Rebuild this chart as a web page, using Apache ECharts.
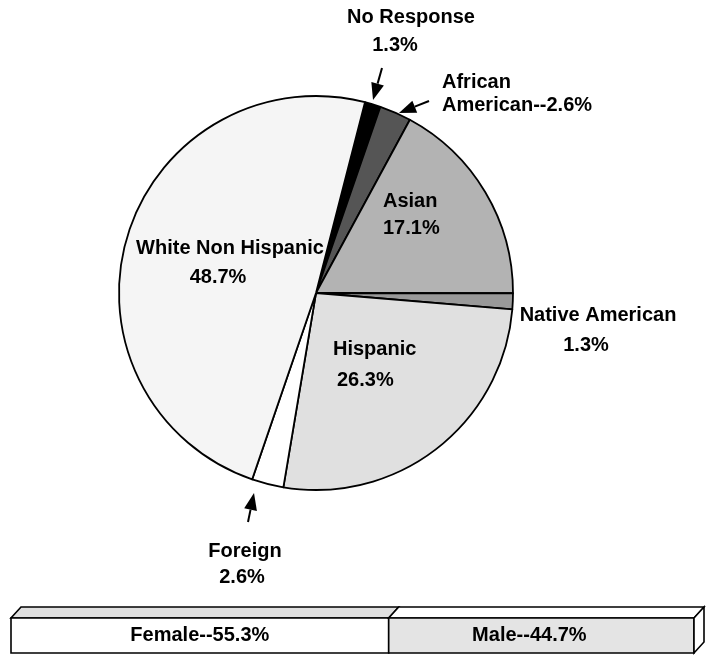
<!DOCTYPE html>
<html>
<head>
<meta charset="utf-8">
<script src="https://cdn.jsdelivr.net/npm/echarts@6/dist/echarts.min.js"></script>
<style>
html,body{margin:0;padding:0;background:#fff;}
#chart{width:714px;height:656px;}
</style>
</head>
<body>
<div id="chart"></div>
<script>
const categories = ['No Response', 'African American', 'Asian', 'Native American', 'Hispanic', 'Foreign', 'White Non Hispanic'];
const percents = [1.3, 2.6, 17.1, 1.3, 26.3, 2.6, 48.7];
const genderCategories = ['Female', 'Male'];
const genderPercents = [55.3, 44.7];

const sliceColors = ['#000000', '#555555', '#b3b3b3', '#999999', '#e0e0e0', '#ffffff', '#f5f5f5'];
const FONT = 'bold 20px "Liberation Sans", Arial, sans-serif';

const chart = echarts.init(document.getElementById('chart'));

function txt(s, x, y, align) {
  return { type: 'text', x: x, y: y, z: 10,
    style: { text: s, font: FONT, fill: '#000', align: align || 'center', verticalAlign: 'middle' } };
}
function arrow(x1, y1, x2, y2) {
  const dx = x2 - x1, dy = y2 - y1, L = Math.sqrt(dx*dx + dy*dy);
  const ux = dx / L, uy = dy / L, hl = 17, hw = 6.5;
  const bx = x2 - ux*hl, by = y2 - uy*hl;
  return [
    { type: 'line', z: 10, shape: { x1: x1, y1: y1, x2: bx, y2: by }, style: { stroke: '#000', lineWidth: 2 } },
    { type: 'polygon', z: 10, shape: { points: [[x2, y2], [bx - uy*hw, by + ux*hw], [bx + uy*hw, by - ux*hw]] }, style: { fill: '#000' } }
  ];
}
const pct = v => v.toFixed(1) + '%';

const graphics = [
  txt(categories[0], 411, 17), txt(pct(percents[0]), 395, 45),
  txt('African', 442, 82, 'left'), txt('American--' + pct(percents[1]), 442, 105, 'left'),
  txt(categories[2], 383, 201, 'left'), txt(pct(percents[2]), 383, 228, 'left'),
  txt(categories[3], 598, 315), txt(pct(percents[3]), 586, 345),
  txt(categories[4], 333, 349, 'left'), txt(pct(percents[4]), 337, 380, 'left'),
  txt(categories[5], 245, 551), txt(pct(percents[5]), 242, 577),
  txt(categories[6], 230, 248), txt(pct(percents[6]), 218, 277)
].concat(arrow(382, 68, 373, 100), arrow(429, 101, 399, 113), arrow(248, 522, 254, 493));

const D_X = 10, D_Y = 11;
const barData = [];
let acc = 0;
genderPercents.forEach((v, i) => { barData.push([acc, acc + v, i]); acc += v; });

chart.setOption({
  animation: false,
  grid: { left: 11, width: 683, top: 618, height: 35 },
  xAxis: { type: 'value', min: 0, max: 100, show: false },
  yAxis: { type: 'category', data: ['g'], show: false },
  graphic: graphics,
  series: [
    {
      type: 'pie',
      center: [316, 293],
      radius: 197,
      startAngle: 75.6,
      clockwise: true,
      label: { show: false },
      labelLine: { show: false },
      emphasis: { disabled: true },
      itemStyle: { borderColor: '#000', borderWidth: 1.8 },
      data: categories.map((c, i) => ({ name: c, value: percents[i], itemStyle: { color: sliceColors[i] } }))
    },
    {
      type: 'custom',
      data: barData,
      renderItem: function (params, api) {
        const s = api.value(0), e = api.value(1), idx = api.value(2);
        const p0 = api.coord([s, 0]), p1 = api.coord([e, 0]);
        const h = api.size([0, 1])[1];
        const x0 = p0[0], x1 = p1[0], y0 = p0[1] - h/2, y1 = p0[1] + h/2;
        const frontFill = idx === 0 ? '#ffffff' : '#e4e4e4';
        const topFill = idx === 0 ? '#e0e0e0' : '#ffffff';
        const st = { stroke: '#000', lineWidth: 1.6, lineJoin: 'miter' };
        const children = [
          { type: 'polygon', shape: { points: [[x0, y0], [x1, y0], [x1 + D_X, y0 - D_Y], [x0 + D_X, y0 - D_Y]] },
            style: Object.assign({ fill: topFill }, st) },
          { type: 'rect', shape: { x: x0, y: y0, width: x1 - x0, height: y1 - y0 },
            style: Object.assign({ fill: frontFill }, st) },
          { type: 'text', x: (x0 + x1) / 2 - (idx === 1 ? 12 : 0), y: (y0 + y1) / 2,
            style: { text: genderCategories[idx] + '--' + pct(genderPercents[idx]), font: FONT, fill: '#000', align: 'center', verticalAlign: 'middle' } }
        ];
        if (idx === genderPercents.length - 1) {
          children.push({ type: 'polygon', shape: { points: [[x1, y0], [x1 + D_X, y0 - D_Y], [x1 + D_X, y1 - D_Y], [x1, y1]] },
            style: Object.assign({ fill: '#ffffff' }, st) });
        }
        return { type: 'group', children: children };
      }
    }
  ]
});
</script>
</body>
</html>
